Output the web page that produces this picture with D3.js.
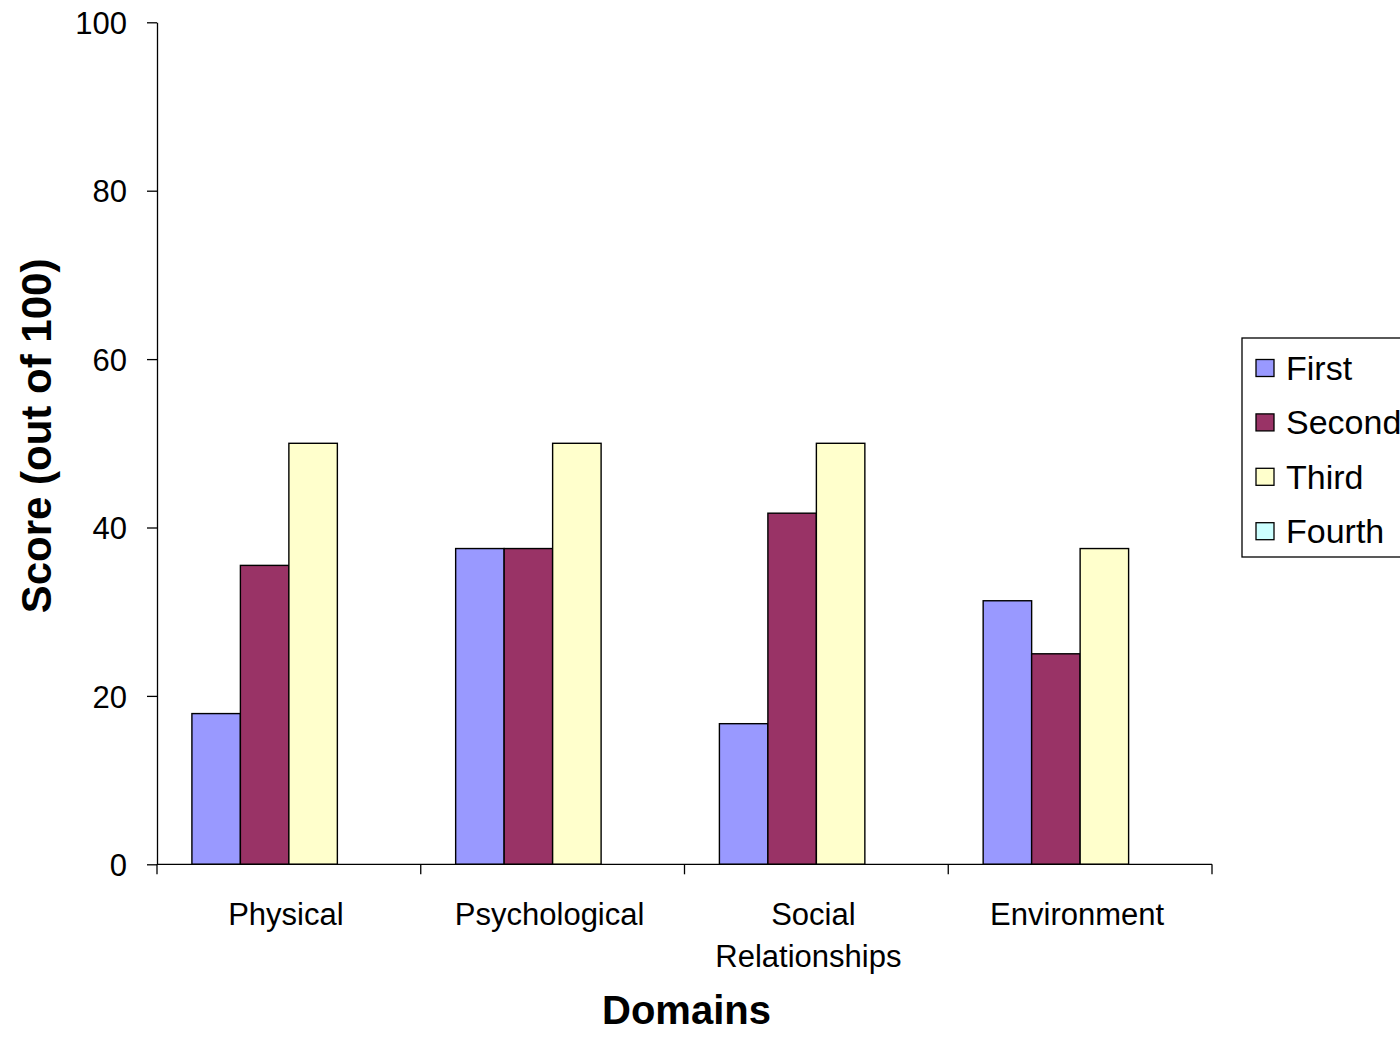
<!DOCTYPE html>
<html>
<head>
<meta charset="utf-8">
<script src="https://cdn.jsdelivr.net/npm/d3@7"></script>
<style>
  html, body { margin: 0; padding: 0; background: #fff; overflow: hidden; }
  svg { display: block; font-family: "Liberation Sans", Arial, sans-serif; }
</style>
</head>
<body>
<svg id="chart" width="1400" height="1041"></svg>
<script>
// Domain scores per assessment round
const domains = ["Physical", "Psychological", "Social Relationships", "Environment"];
const seriesNames = ["First", "Second", "Third", "Fourth"];
const firstScores  = [17.9, 37.5, 16.7, 31.3];
const secondScores = [35.5, 37.5, 41.7, 25.0];
const thirdScores  = [50.0, 50.0, 50.0, 37.5];
const fourthScores = [0, 0, 0, 0];
const yTicks = [0, 20, 40, 60, 80, 100];
const seriesColors = ["#9999FF", "#993366", "#FFFFCC", "#CCFFFF"];

const allScores = [firstScores, secondScores, thirdScores, fourthScores];

const svg = d3.select("#chart");
const plot = { left: 157, right: 1212, top: 22.3, bottom: 864.3 };

const x = d3.scaleBand().domain(domains).range([plot.left, plot.right]).padding(0);
const xSub = d3.scaleBand().domain(seriesNames).range([0, x.bandwidth()])
  .paddingInner(0).paddingOuter(0.72);
const y = d3.scaleLinear().domain([0, 100]).range([plot.bottom, plot.top]);
const color = d3.scaleOrdinal().domain(seriesNames).range(seriesColors);

// Bars
const groups = svg.append("g").selectAll("g")
  .data(domains)
  .join("g")
  .attr("transform", d => `translate(${x(d)},0)`);

groups.selectAll("rect")
  .data((d, i) => seriesNames.map((s, j) => ({ series: s, value: allScores[j][i] })))
  .join("rect")
  .attr("x", d => xSub(d.series))
  .attr("y", d => y(d.value))
  .attr("width", xSub.bandwidth())
  .attr("height", d => y(0) - y(d.value))
  .attr("fill", d => color(d.series))
  .attr("stroke", "#000")
  .attr("stroke-width", 1.4)
  .attr("display", d => d.value > 0 ? null : "none");

// Y axis
const yAxis = svg.append("g")
  .attr("transform", `translate(${plot.left},0)`)
  .call(d3.axisLeft(y).tickValues(yTicks).tickSize(10).tickPadding(20).tickSizeOuter(0));
yAxis.select(".domain").attr("stroke", "#000").attr("stroke-width", 1.3);
yAxis.selectAll(".tick line").attr("stroke", "#000").attr("stroke-width", 1.3);
yAxis.selectAll(".tick text")
  .attr("font-size", 31)
  .attr("font-family", "Liberation Sans, Arial, sans-serif")
  .attr("fill", "#000")
  .attr("dy", "0.36em");

// X axis
const xAxis = svg.append("g")
  .attr("transform", `translate(0,${plot.bottom})`);
xAxis.append("line")
  .attr("x1", plot.left).attr("x2", plot.right)
  .attr("y1", 0).attr("y2", 0)
  .attr("stroke", "#000").attr("stroke-width", 1.3);
const xTickPositions = domains.map(d => x(d)).concat([x(domains[domains.length - 1]) + x.bandwidth()]);
xAxis.selectAll("line.tick")
  .data(xTickPositions)
  .join("line")
  .attr("class", "tick")
  .attr("x1", d => d).attr("x2", d => d)
  .attr("y1", 0).attr("y2", 10)
  .attr("stroke", "#000").attr("stroke-width", 1.3);

// Category labels (wrapped on spaces for long names)
const labelGroups = svg.append("g").selectAll("text")
  .data(domains)
  .join("text")
  .attr("x", d => x(d) + x.bandwidth() / 2)
  .attr("y", 925)
  .attr("text-anchor", "middle")
  .attr("font-size", 31)
  .attr("fill", "#000");
labelGroups.each(function(d) {
  const words = d === "Social Relationships" ? ["Social", "Relationships"] : [d];
  const t = d3.select(this);
  words.forEach((w, i) => {
    t.append("tspan")
      .attr("x", x(d) + x.bandwidth() / 2 - (i > 0 ? 8 : 3))
      .attr("dy", i === 0 ? 0 : 42)
      .text(w);
  });
});

// Axis titles
svg.append("text")
  .attr("x", (plot.left + plot.right) / 2 + 2)
  .attr("y", 1024)
  .attr("text-anchor", "middle")
  .attr("font-size", 40)
  .attr("font-weight", "bold")
  .attr("fill", "#000")
  .text("Domains");

svg.append("text")
  .attr("transform", "translate(51,436) rotate(-90)")
  .attr("text-anchor", "middle")
  .attr("font-size", 42)
  .attr("font-weight", "bold")
  .attr("fill", "#000")
  .text("Score (out of 100)");

// Legend
const legend = svg.append("g").attr("transform", "translate(1242,338)");
legend.append("rect")
  .attr("x", 0).attr("y", 0)
  .attr("width", 200).attr("height", 219)
  .attr("fill", "#fff")
  .attr("stroke", "#000")
  .attr("stroke-width", 1.3);
const rows = legend.selectAll("g.row")
  .data(seriesNames)
  .join("g")
  .attr("class", "row")
  .attr("transform", (d, i) => `translate(0,${30 + i * 54.4})`);
rows.append("rect")
  .attr("x", 14).attr("y", -8.5)
  .attr("width", 18).attr("height", 17)
  .attr("fill", d => color(d))
  .attr("stroke", "#000")
  .attr("stroke-width", 1.3);
rows.append("text")
  .attr("x", 44).attr("y", 12)
  .attr("font-size", 34)
  .attr("fill", "#000")
  .text(d => d);
</script>
</body>
</html>
